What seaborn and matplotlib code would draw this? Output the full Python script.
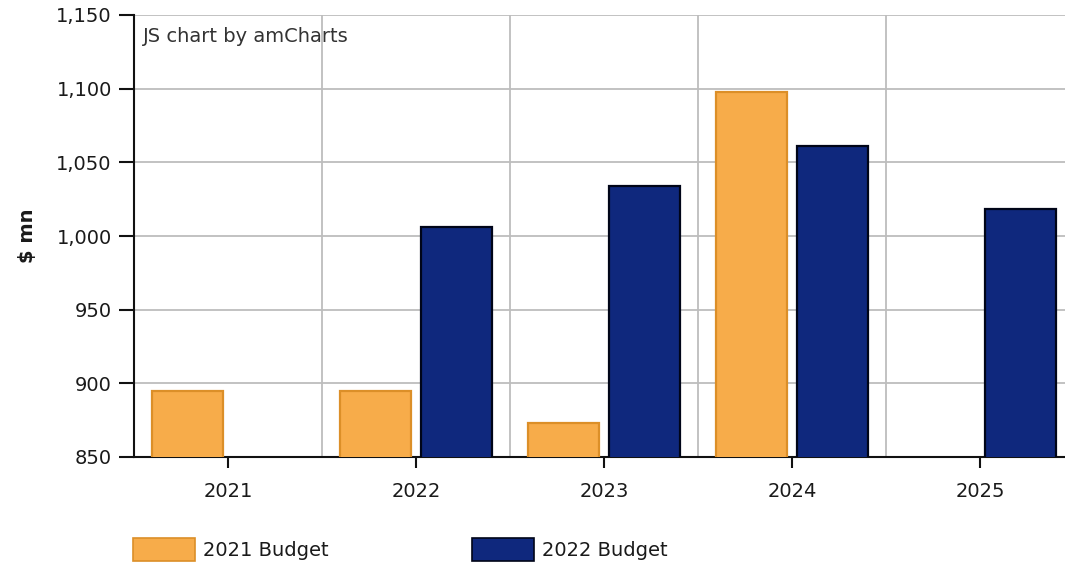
import numpy as np
import pandas as pd
import matplotlib
matplotlib.use("Agg")
import matplotlib.pyplot as plt
import seaborn as sns
from matplotlib.patches import Patch
from matplotlib.ticker import FixedLocator, FuncFormatter

years = ["2021", "2022", "2023", "2024", "2025"]
budget_2021 = [895, 895, 873, 1098, np.nan]
budget_2022 = [np.nan, 1006, 1034, 1061, 1018]
series_names = ["2021 Budget", "2022 Budget"]
y_ticks = [850, 900, 950, 1000, 1050, 1100, 1150]

df = pd.DataFrame({
    "year": years * 2,
    "value": budget_2021 + budget_2022,
    "series": [series_names[0]] * 5 + [series_names[1]] * 5,
})

sns.set_theme(style="white")
plt.rcParams["font.family"] = ["DejaVu Sans"]

FS = 14
fill_colors = ["#F7AC4A", "#0F287D"]
edge_colors = ["#DC8F28", "#000518"]
text_color = "#1a1a1a"

fig = plt.figure(figsize=(10.65, 5.65), dpi=100)
ax = fig.add_axes([134 / 1065, 1 - 457 / 565, 940 / 1065, 442 / 565])

sns.barplot(data=df, x="year", y="value", hue="series", order=years,
            hue_order=series_names, palette=fill_colors, width=0.86, gap=0.12,
            saturation=1, legend=False, ax=ax, zorder=3)

for cont, ec in zip(ax.containers, edge_colors):
    for p in cont.patches:
        p.set_edgecolor(ec)
        p.set_linewidth(1.6)

ax.set_xlim(-0.5, 4.5)
ax.set_ylim(850, 1150)
ax.set_yticks(y_ticks)
ax.yaxis.set_major_formatter(FuncFormatter(lambda v, p: f"{int(v):,}"))
ax.xaxis.set_minor_locator(FixedLocator([0.5, 1.5, 2.5, 3.5]))
ax.grid(axis="y", which="major", color="#bdbdbd", linewidth=1.3, zorder=0)
ax.grid(axis="x", which="minor", color="#bdbdbd", linewidth=1.3, zorder=0)
ax.set_axisbelow(True)

for s in ["top", "right"]:
    ax.spines[s].set_visible(False)
for s in ["left", "bottom"]:
    ax.spines[s].set_color("#111111")
    ax.spines[s].set_linewidth(1.5)

ax.tick_params(axis="y", which="major", length=11, width=1.5, color="#111111",
               labelsize=FS, labelcolor=text_color, pad=5, left=True)
ax.tick_params(axis="x", which="major", length=8, width=1.5, color="#111111",
               labelsize=FS, labelcolor=text_color, pad=10, bottom=True)
ax.tick_params(axis="x", which="minor", length=0)

ax.set_xlabel("")
ax.set_ylabel("$ mn", fontsize=FS, fontweight="bold", color=text_color, labelpad=14)

ax.text(9 / 940, 1 - 22 / 442, "JS chart by amCharts", transform=ax.transAxes,
        fontsize=FS, color="#333333", va="center", ha="left")

handles = [Patch(facecolor=c, edgecolor=e, linewidth=1.2) for c, e in zip(fill_colors, edge_colors)]
for h, name, x0 in zip(handles, series_names, [133, 472]):
    fig.legend([h], [name], loc="center left", bbox_to_anchor=(x0 / 1065, 1 - 549.5 / 565),
               frameon=False, fontsize=FS, handlelength=3.2, handleheight=1.39,
               handletextpad=0.41, borderpad=0, borderaxespad=0, labelcolor=text_color)

fig.savefig("out.png", dpi=100)
